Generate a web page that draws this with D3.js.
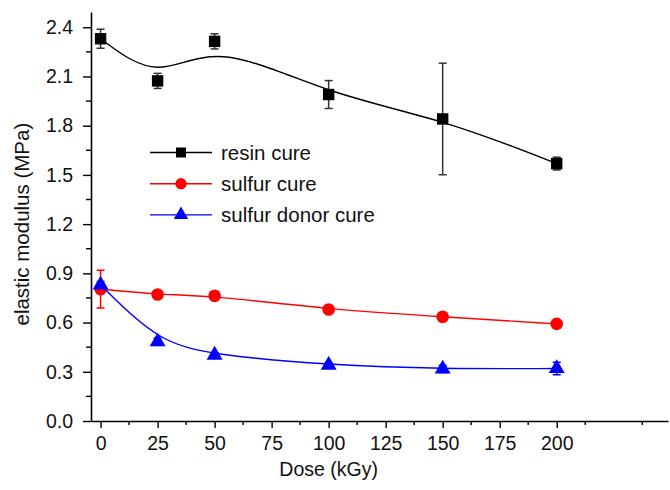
<!DOCTYPE html>
<html>
<head>
<meta charset="utf-8">
<script src="https://cdn.jsdelivr.net/npm/d3@7"></script>
<style>
  body { margin: 0; background: #fff; }
  svg { display: block; font-family: "Liberation Sans", Arial, sans-serif; }
</style>
</head>
<body>
<svg id="chart" width="670" height="490"></svg>
<script>
// dose values (kGy)
const doses = [0, 25, 50, 100, 150, 200];

// elastic modulus (MPa) and standard deviation for each cure system
const resinVals  = [2.33, 2.073, 2.314, 1.99, 1.841, 1.569];
const resinErr   = [0.058, 0.046, 0.046, 0.085, 0.34, 0.039];
const sulfurVals = [0.804, 0.771, 0.763, 0.680, 0.635, 0.592];
const sulfurErr  = [0.115, 0.01, 0.01, 0.01, 0.022, 0.01];
const donorVals  = [0.83, 0.483, 0.402, 0.341, 0.317, 0.32];
const donorErr   = [0.02, 0.022, 0.015, 0.015, 0.022, 0.038];

const seriesNames = ["resin cure", "sulfur cure", "sulfur donor cure"];
const xTicks = [0, 25, 50, 75, 100, 125, 150, 175, 200];
const yTicks = [0.0, 0.3, 0.6, 0.9, 1.2, 1.5, 1.8, 2.1, 2.4];

const series = [
  { name: seriesNames[0], vals: resinVals,  err: resinErr,  color: "#000000", shape: d3.symbolSquare },
  { name: seriesNames[1], vals: sulfurVals, err: sulfurErr, color: "#ff0000", shape: d3.symbolCircle },
  { name: seriesNames[2], vals: donorVals,  err: donorErr,  color: "#0000ff", shape: d3.symbolTriangle }
];

const svg = d3.select("#chart");
const margin = { left: 91, top: 12, right: 2, bottom: 69 };
const W = 670, H = 490;
const FONT = "Liberation Sans, Arial, sans-serif";

const x = d3.scaleLinear().domain([-4.2, 248.8]).range([margin.left, W - margin.right]);
const y = d3.scaleLinear().domain([0, 2.493]).range([H - margin.bottom, margin.top]);

// axes — major ticks labelled, minor ticks between
const xAx = svg.append("g").attr("transform", `translate(0,${H - margin.bottom})`)
  .call(d3.axisBottom(x).tickValues(xTicks).tickFormat(d3.format("d"))
    .tickSize(7).tickSizeOuter(0).tickPadding(8));
const yAx = svg.append("g").attr("transform", `translate(${margin.left},0)`)
  .call(d3.axisLeft(y).tickValues(yTicks).tickFormat(d3.format(".1f"))
    .tickSize(8).tickSizeOuter(0).tickPadding(10));

[xAx, yAx].forEach(a => {
  a.select(".domain").attr("stroke", "#000").attr("stroke-width", 1.6);
  a.selectAll(".tick line").attr("stroke", "#000").attr("stroke-width", 1.4);
  a.selectAll(".tick text").attr("fill", "#111").attr("font-size", 19.5)
    .attr("font-family", FONT);
});

// minor ticks
const xMinor = d3.range(12.5, 240, 25);
svg.append("g").selectAll("line").data(xMinor).enter().append("line")
  .attr("x1", d => x(d)).attr("x2", d => x(d))
  .attr("y1", H - margin.bottom).attr("y2", H - margin.bottom + 4)
  .attr("stroke", "#000").attr("stroke-width", 1.4);
const yMinor = d3.range(0.15, 2.45, 0.3);
svg.append("g").selectAll("line").data(yMinor).enter().append("line")
  .attr("x1", margin.left - 5).attr("x2", margin.left)
  .attr("y1", d => y(d)).attr("y2", d => y(d))
  .attr("stroke", "#000").attr("stroke-width", 1.4);

// axis titles
svg.append("text").attr("x", x(100)).attr("y", 476).attr("text-anchor", "middle")
  .attr("font-size", 19.5).attr("fill", "#111").text("Dose (kGy)");
svg.append("text").attr("transform", `translate(29,${y(1.2)}) rotate(-90)`)
  .attr("text-anchor", "middle").attr("font-size", 20.5).attr("fill", "#111")
  .text("elastic modulus (MPa)");

// B-spline smoothed lines
const line = d3.line().x(d => x(d[0])).y(d => y(d[1])).curve(d3.curveBasis);

series.forEach(s => {
  const pts = doses.map((d, i) => [d, s.vals[i], s.err[i]]);
  const g = svg.append("g");
  g.append("path").datum(pts).attr("d", line)
    .attr("fill", "none").attr("stroke", s.color).attr("stroke-width", 1.4);

  // error bars
  const eb = g.selectAll("g.err").data(pts).enter().append("g").attr("class", "err")
    .attr("stroke", s.color === "#000000" ? "#333" : s.color).attr("stroke-width", 1.5);
  eb.append("line").attr("x1", d => x(d[0])).attr("x2", d => x(d[0]))
    .attr("y1", d => y(d[1] - d[2])).attr("y2", d => y(d[1] + d[2]));
  eb.append("line").attr("x1", d => x(d[0]) - 4).attr("x2", d => x(d[0]) + 4)
    .attr("y1", d => y(d[1] - d[2])).attr("y2", d => y(d[1] - d[2]));
  eb.append("line").attr("x1", d => x(d[0]) - 4).attr("x2", d => x(d[0]) + 4)
    .attr("y1", d => y(d[1] + d[2])).attr("y2", d => y(d[1] + d[2]));

  // markers
  const size = s.shape === d3.symbolSquare ? 130 : s.shape === d3.symbolCircle ? 125 : 110;
  g.selectAll("path.mk").data(pts).enter().append("path").attr("class", "mk")
    .attr("transform", d => `translate(${x(d[0])},${y(d[1])})`)
    .attr("d", d3.symbol().type(s.shape).size(size))
    .attr("fill", s.color);
});

// legend
const legend = svg.append("g");
series.forEach((s, i) => {
  const ly = 152.5 + i * 31.2;
  legend.append("line").attr("x1", 150).attr("x2", 212).attr("y1", ly).attr("y2", ly)
    .attr("stroke", s.color).attr("stroke-width", 1.4);
  const size = s.shape === d3.symbolSquare ? 100 : s.shape === d3.symbolCircle ? 100 : 90;
  legend.append("path").attr("transform", `translate(181,${ly})`)
    .attr("d", d3.symbol().type(s.shape).size(size)).attr("fill", s.color);
  legend.append("text").attr("x", 221).attr("y", ly + 7)
    .attr("font-size", 20.5).attr("fill", "#111").text(s.name);
});
</script>
</body>
</html>
